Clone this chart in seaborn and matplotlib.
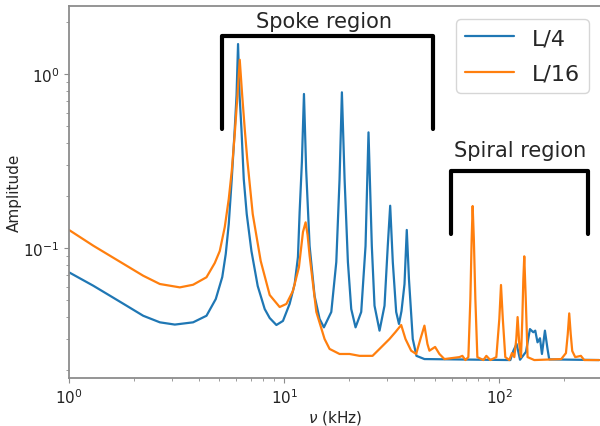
import pandas as pd
import matplotlib
matplotlib.use('Agg')
import matplotlib.pyplot as plt
import seaborn as sns

# Spectre : frequence (kHz) et amplitude
freq_l4 = [1.00, 1.297, 1.550, 1.852, 2.212, 2.644, 3.104, 3.774, 4.355, 4.810,
           5.156, 5.352, 5.527, 5.707, 5.893, 6.008, 6.105, 6.204, 6.331, 6.489,
           6.699, 7.045, 7.534, 8.120, 8.565, 9.201, 9.872, 10.60, 11.19, 11.59,
           11.80, 12.09, 12.36, 12.65, 13.13, 13.85, 14.61, 15.30, 16.56,
           17.47, 18.09, 18.55, 19.09, 19.78, 20.50, 21.47, 22.81, 23.89, 24.66,
           25.55, 26.30, 27.75, 29.27, 30.31, 31.10, 31.98, 33.16, 34.17, 35.10,
           36.25, 37.14, 38.02, 39.60, 41.19, 44.87, 112.5, 116.1, 120.3, 124.8,
           133.0, 138.8, 143.8, 146.9, 150.5, 154.5, 157.8, 162.9, 167.5, 170.6,
           291.0]
amp_l4 = [0.0725, 0.0607, 0.0532, 0.0466, 0.0408, 0.0374, 0.0363, 0.0374, 0.0408, 0.0509,
          0.0681, 0.0924, 0.1374, 0.249, 0.483, 0.757, 1.487, 0.757, 0.483, 0.249,
          0.1568, 0.0961, 0.0605, 0.0446, 0.0396, 0.0361, 0.0381, 0.0477, 0.0621, 0.0888,
          0.161, 0.312, 0.768, 0.284, 0.1027, 0.0530, 0.0391, 0.0350, 0.0429,
          0.0831, 0.249, 0.785, 0.249, 0.0831, 0.0446, 0.0350, 0.0429, 0.1027, 0.462,
          0.1027, 0.0466, 0.0335, 0.0466, 0.1031, 0.175, 0.0831, 0.0429, 0.0366, 0.0434,
          0.0621, 0.127, 0.0663, 0.0300, 0.0240, 0.0230, 0.0227, 0.0256, 0.0281, 0.0228,
          0.0253, 0.0342, 0.0328, 0.0335, 0.0287, 0.0303, 0.0246, 0.0335, 0.0263, 0.0229,
          0.0227]

freq_l16 = [1.00, 1.297, 1.550, 1.852, 2.212, 2.644, 3.274, 3.774, 4.355, 4.759,
            5.020, 5.296, 5.527, 5.707, 5.893, 6.064, 6.216, 6.385, 6.558, 6.735,
            7.143, 7.780, 8.565, 9.530, 10.24, 10.98, 11.71, 12.23, 12.58, 12.85,
            13.13, 14.11, 15.41, 16.26, 18.09, 20.13, 22.40, 25.75, 27.75, 30.87,
            32.92, 34.99, 36.63, 38.92, 41.07, 42.99, 44.87, 46.33, 47.33, 50.30,
            52.67, 55.56, 65.23, 67.35, 69.54, 71.80, 73.35, 74.38, 75.17, 76.14,
            77.38, 79.05, 84.30, 87.04, 90.83, 96.85, 100.0, 101.8, 103.8, 106.6,
            111.3, 114.5, 117.4, 119.9, 121.6, 123.8, 126.1, 127.9, 129.3, 130.6,
            132.7, 135.3, 145.4, 194.0, 204.0, 208.0, 211.3, 214.7, 218.2, 225.3,
            239.4, 248.0, 291.0]
amp_l16 = [0.127, 0.1031, 0.0903, 0.0791, 0.0693, 0.0621, 0.0594, 0.0615, 0.0679, 0.0820,
           0.0961, 0.132, 0.1913, 0.277, 0.452, 0.748, 1.208, 0.748, 0.483, 0.325,
           0.1568, 0.0842, 0.0537, 0.0458, 0.0477, 0.0566, 0.0775, 0.1236, 0.1405, 0.1188,
           0.0903, 0.0429, 0.0300, 0.0263, 0.0246, 0.0246, 0.0240, 0.0240, 0.0263, 0.0300,
           0.0329, 0.0361, 0.0300, 0.0257, 0.0246, 0.0300, 0.0358, 0.0281, 0.0257, 0.0270,
           0.0246, 0.0230, 0.0236, 0.0240, 0.0227, 0.0236, 0.0509, 0.1126, 0.1743, 0.1126,
           0.0509, 0.0236, 0.0227, 0.0240, 0.0227, 0.0236, 0.0391, 0.0613, 0.0391, 0.0236,
           0.0227, 0.0249, 0.0236, 0.0300, 0.0401, 0.0281, 0.0236, 0.0391, 0.0663, 0.0896,
           0.0509, 0.0236, 0.0227, 0.0230, 0.0249, 0.0320, 0.0421, 0.0320, 0.0256, 0.0236,
           0.0240, 0.0227, 0.0227]

# crochets des regions (kHz, amplitude)
spoke_x = [5.15, 49.0]
spoke_y = [0.48, 1.65]
spiral_x = [59.7, 259.0]
spiral_y = [0.12, 0.277]

df = pd.concat([
    pd.DataFrame({'freq': freq_l4, 'amp': amp_l4, 'serie': 'L/4'}),
    pd.DataFrame({'freq': freq_l16, 'amp': amp_l16, 'serie': 'L/16'}),
])

sns.set_style('ticks')
plt.rcParams['font.family'] = ['DejaVu Sans']

fig = plt.figure(figsize=(6, 4.27), dpi=100)
ax = fig.add_axes([0.115, 0.1124, 0.8883, 0.8712])

sns.lineplot(data=df, x='freq', y='amp', hue='serie', palette=['#1f77b4', '#ff7f0e'],
             sort=False, estimator=None, lw=1.6, ax=ax)

ax.set_xscale('log')
ax.set_yscale('log')
ax.set_xlim(1, 300)
ax.set_ylim(0.0179, 2.46)

# crochets "Spoke region" et "Spiral region"
ax.plot([spoke_x[0], spoke_x[0], spoke_x[1], spoke_x[1]],
        [spoke_y[0], spoke_y[1], spoke_y[1], spoke_y[0]], color='black', lw=3)
ax.plot([spiral_x[0], spiral_x[0], spiral_x[1], spiral_x[1]],
        [spiral_y[0], spiral_y[1], spiral_y[1], spiral_y[0]], color='black', lw=3)
ax.text(15.3, 1.86, 'Spoke region', fontsize=15, ha='center', va='baseline')
ax.text(125, 0.338, 'Spiral region', fontsize=15, ha='center', va='baseline')

ax.set_xlabel(r'$\nu$ (kHz)', fontsize=11, labelpad=1)
ax.set_ylabel('Amplitude', fontsize=11, labelpad=1)

for s in ax.spines.values():
    s.set_color('#8c8c8c')
    s.set_linewidth(1.3)
ax.tick_params(which='both', colors='#8c8c8c', labelcolor='#222222', labelsize=11)

handles, labels = ax.get_legend_handles_labels()
ax.legend(handles, labels, loc='upper right', fontsize=16, handlelength=2.2,
          labelspacing=0.7, borderaxespad=0.6)

plt.savefig('out.png', dpi=100)
